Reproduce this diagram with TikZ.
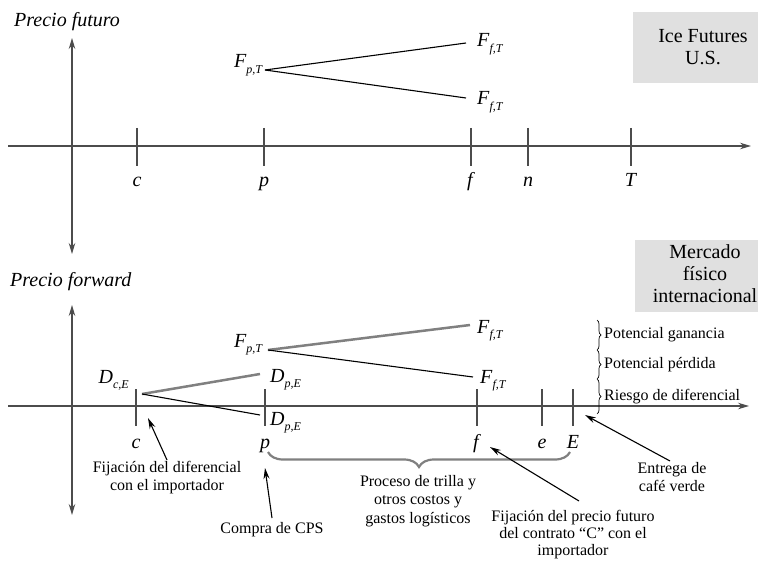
\documentclass[tikz,border=0pt]{standalone}
\usepackage{fontspec}
\setmainfont{Liberation Serif}
\usetikzlibrary{arrows.meta,positioning,decorations.pathreplacing}

\begin{document}
\begin{tikzpicture}[x=1pt,y=-1pt,
  axis/.style={draw=black!70,line width=1.1pt},
  tip/.style={-{Stealth[length=11pt,width=6.5pt]}},
  both/.style={{Stealth[length=11pt,width=6.5pt]}-{Stealth[length=11pt,width=6.5pt]}},
  big/.style={font=\fontsize{20}{22}\selectfont,inner sep=2pt},
  note/.style={font=\fontsize{16}{18.5}\selectfont,inner sep=1pt,align=center},
  gain/.style={draw=black!50,line width=2.5pt},
  loss/.style={draw=black,line width=1.1pt},
  pointer/.style={draw=black,line width=1.1pt,-{Stealth[length=11pt,width=6pt]}},
  market/.style={fill=black!12}]
  \useasboundingbox (0,0) rectangle (758,564);
  \def\lbl#1#2{\textit{#1}\raisebox{-0.55ex}{\fontsize{12}{12}\selectfont\textit{#2}}}

  % futuros
  \fill[market] (633,12) rectangle (758,83);
  \node[big,align=center,anchor=base] (ice) at (703,65) {Ice Futures\\U.S.};
  \node[big,anchor=west] (yfut) at (12,22) {\textit{Precio futuro}};
  \draw[axis,tip] (8,146) -- (751,146);
  \draw[axis,both] (72,38) -- (72,254);
  \foreach \x/\t in {137/c,264/p,471/f,528/n,631/T} {
    \draw[axis] (\x,128) -- (\x,166);
    \node[big,anchor=base] (fut-\t) at (\x,187) {\textit{\t}};
  }
  \node[big,anchor=base east] (fpt) at (265,68) {\lbl{F}{p,T}};
  \node[big,anchor=base west] (fft1) at (475,47) {\lbl{F}{f,T}};
  \node[big,anchor=base west] (fft2) at (475,105) {\lbl{F}{f,T}};
  \draw[loss] ([yshift=-2pt]fpt.base east) -- ([xshift=-9pt,yshift=4pt]fft1.base west);
  \draw[loss] ([yshift=-2pt]fpt.base east) -- ([xshift=-9pt,yshift=7pt]fft2.base west);

  % forward
  \fill[market] (635,240) rectangle (758,312);
  \node[big,align=center,anchor=base] (fis) at (705,302) {Mercado\\físico\\internacional};
  \node[big,anchor=west] (yfwd) at (8,282) {\textit{Precio forward}};
  \draw[axis,tip] (8,406) -- (749,406);
  \draw[axis,both] (72,305) -- (72,515);
  \foreach \x/\t in {136/c,265/p,477/f,542/e,573/E} {
    \draw[axis] (\x,389) -- (\x,426);
    \node[big,anchor=base] (fwd-\t) at (\x,448) {\textit{\t}};
  }
  \node[big,anchor=base east] (dce) at (131,383) {\lbl{D}{c,E}};
  \node[big,anchor=base west] (dpe1) at (268,382) {\lbl{D}{p,E}};
  \node[big,anchor=base west] (dpe2) at (268,425) {\lbl{D}{p,E}};
  \node[big,anchor=base east] (fpt2) at (265,347) {\lbl{F}{p,T}};
  \node[big,anchor=base west] (fft3) at (475,333) {\lbl{F}{f,T}};
  \node[big,anchor=base west] (fft4) at (478,383) {\lbl{F}{f,T}};
  \draw[gain] ([xshift=11pt,yshift=-11pt]dce.base east) -- ([xshift=-8pt,yshift=8pt]dpe1.base west);
  \draw[loss] ([xshift=11pt,yshift=-11pt]dce.base east) -- ([xshift=-8pt,yshift=10pt]dpe2.base west);
  \draw[gain] ([xshift=3pt,yshift=-3pt]fpt2.base east) -- ([xshift=-5pt,yshift=8pt]fft3.base west);
  \draw[loss] ([xshift=3pt,yshift=-3pt]fpt2.base east) -- ([xshift=-5pt,yshift=6pt]fft4.base west);

  % llaves de resultado
  \foreach \a/\b/\t [count=\i] in {320/350/Potencial ganancia,350/379/Potencial pérdida,379/414/Riesgo de diferencial} {
    \draw[line width=0.7pt,decorate,decoration={brace,amplitude=4pt}] (597,\a) -- (597,\b);
    \node[note,anchor=west] (res\i) at (603,{(\a+\b)/2}) {\t};
  }
  \draw[draw=black!50,line width=2.2pt,decorate,decoration={brace,amplitude=15pt}] (570,452) -- (268,452);
  \node[note,anchor=north] (proc) at (418,474) {Proceso de trilla y\\otros costos y\\gastos logísticos};

  % notas
  \node[note,anchor=north] (fijd) at (167,460) {Fijación del diferencial\\con el importador};
  \node[note,anchor=north] (cps) at (272,521) {Compra de CPS};
  \node[note,anchor=north,font=\fontsize{16}{17}\selectfont] (fijp) at (573,509) {Fijación del precio futuro\\del contrato “C” con el\\importador};
  \node[note,anchor=north] (entr) at (672,461) {Entrega de\\café verde};
  \coordinate (pc) at (148,418);
  \coordinate (pp) at (265,468);
  \coordinate (pf) at (490,447);
  \coordinate (pE) at (585,415);
  \draw[pointer] (fijd.north) -- (pc);
  \draw[pointer] ([yshift=3pt]cps.north) -- (pp);
  \draw[pointer] ([xshift=6pt,yshift=8pt]fijp.north) -- (pf);
  \draw[pointer] ([xshift=-2pt]entr.north) -- (pE);
\end{tikzpicture}
\end{document}
